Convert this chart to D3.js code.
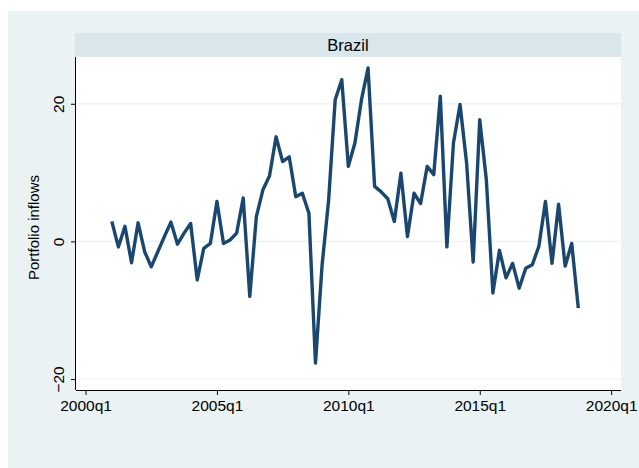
<!DOCTYPE html>
<html><head><meta charset="utf-8">
<script src="https://cdn.jsdelivr.net/npm/d3@7"></script>
<style>body{margin:0;background:#fff;}svg{display:block;font-family:Arial,"Liberation Sans",sans-serif;}</style>
</head><body><svg id="c" width="639" height="468"></svg>
<script>
// quarters since 2000q1 (4 = 2001q1 ... 75 = 2018q4)
const quarters = d3.range(4, 76);
const inflows = [2.9,-0.8,2.2,-3.1,2.7,-1.5,-3.7,-1.5,0.7,2.8,-0.4,1.2,2.6,-5.6,-1.0,-0.3,
  5.8,-0.3,0.2,1.2,6.3,-8.0,3.6,7.5,9.5,15.2,11.6,12.3,6.5,7.0,4.1,-17.7,
  -3.5,6.0,20.6,23.5,10.9,14.3,20.6,25.2,8.0,7.2,6.2,2.9,9.9,0.7,7.0,5.5,
  10.9,9.7,21.1,-0.8,14.3,19.9,11.4,-3.0,17.7,9.0,-7.5,-1.3,-5.3,-3.2,-6.8,-3.9,
  -3.4,-0.7,5.8,-3.2,5.4,-3.6,-0.3,-9.7];
const xTicks = [0, 20, 40, 60, 80];
const xTickLabels = ["2000q1","2005q1","2010q1","2015q1","2020q1"];
const yTicks = [-20, 0, 20];
const panelTitle = "Brazil";
const yTitle = "Portfolio inflows";

const svg = d3.select("#c");
const L = 76, R = 621, T = 57, B = 390;
svg.append("rect").attr("x",8).attr("y",11).attr("width",631).attr("height",457).attr("fill","#eaf2f3");
svg.append("rect").attr("x",75).attr("y",33).attr("width",R-75).attr("height",T-33).attr("fill","#d9e6eb");
svg.append("rect").attr("x",L).attr("y",T).attr("width",R-L).attr("height",B-T).attr("fill","#ffffff");
svg.append("text").attr("x",(75+R)/2).attr("y",51).attr("text-anchor","middle").attr("font-size",16.5).attr("fill","#000").text(panelTitle);

const x = d3.scaleLinear().domain([-1.45, 81.5]).range([L, R]);
const y = d3.scaleLinear().domain([-21.6, 26.8]).range([B, T]);

svg.append("g").selectAll("line").data(yTicks).join("line")
  .attr("x1",L).attr("x2",R).attr("y1",d=>y(d)).attr("y2",d=>y(d))
  .attr("stroke","#eaf2f3").attr("stroke-width",1.2);

const line = d3.line().x((d,i)=>x(quarters[i])).y(d=>y(d)).curve(d3.curveLinear);
svg.append("path").datum(inflows).attr("d",line).attr("fill","none")
  .attr("stroke","#1a476f").attr("stroke-width",3.4).attr("stroke-linejoin","round");

const xa = svg.append("g").attr("transform",`translate(0,${B})`)
  .call(d3.axisBottom(x).tickValues(xTicks).tickFormat((d,i)=>xTickLabels[i]).tickSize(5).tickPadding(5).tickSizeOuter(0));
xa.select(".domain").attr("d",`M${L},0.5H${R}`);
const ya = svg.append("g").attr("transform",`translate(${L},0)`)
  .call(d3.axisLeft(y).tickValues(yTicks).tickSize(5).tickSizeOuter(0).tickFormat(d3.format("d")));
ya.select(".domain").attr("d",`M-0.5,${T}V${B}`);
[xa,ya].forEach(a=>{a.selectAll("text").attr("font-size",15.5).attr("fill","#000").attr("font-family","Arial, Liberation Sans, sans-serif");
  a.selectAll("line,path").attr("stroke","#000");});
ya.selectAll(".tick text").attr("x",null).attr("dy",null).attr("text-anchor","middle")
  .attr("transform","translate(-12,0) rotate(-90)");
svg.append("text").attr("transform",`translate(39,${(T+B)/2+4}) rotate(-90)`).attr("text-anchor","middle")
  .attr("font-size",15).attr("fill","#000").text(yTitle);
</script></body></html>
